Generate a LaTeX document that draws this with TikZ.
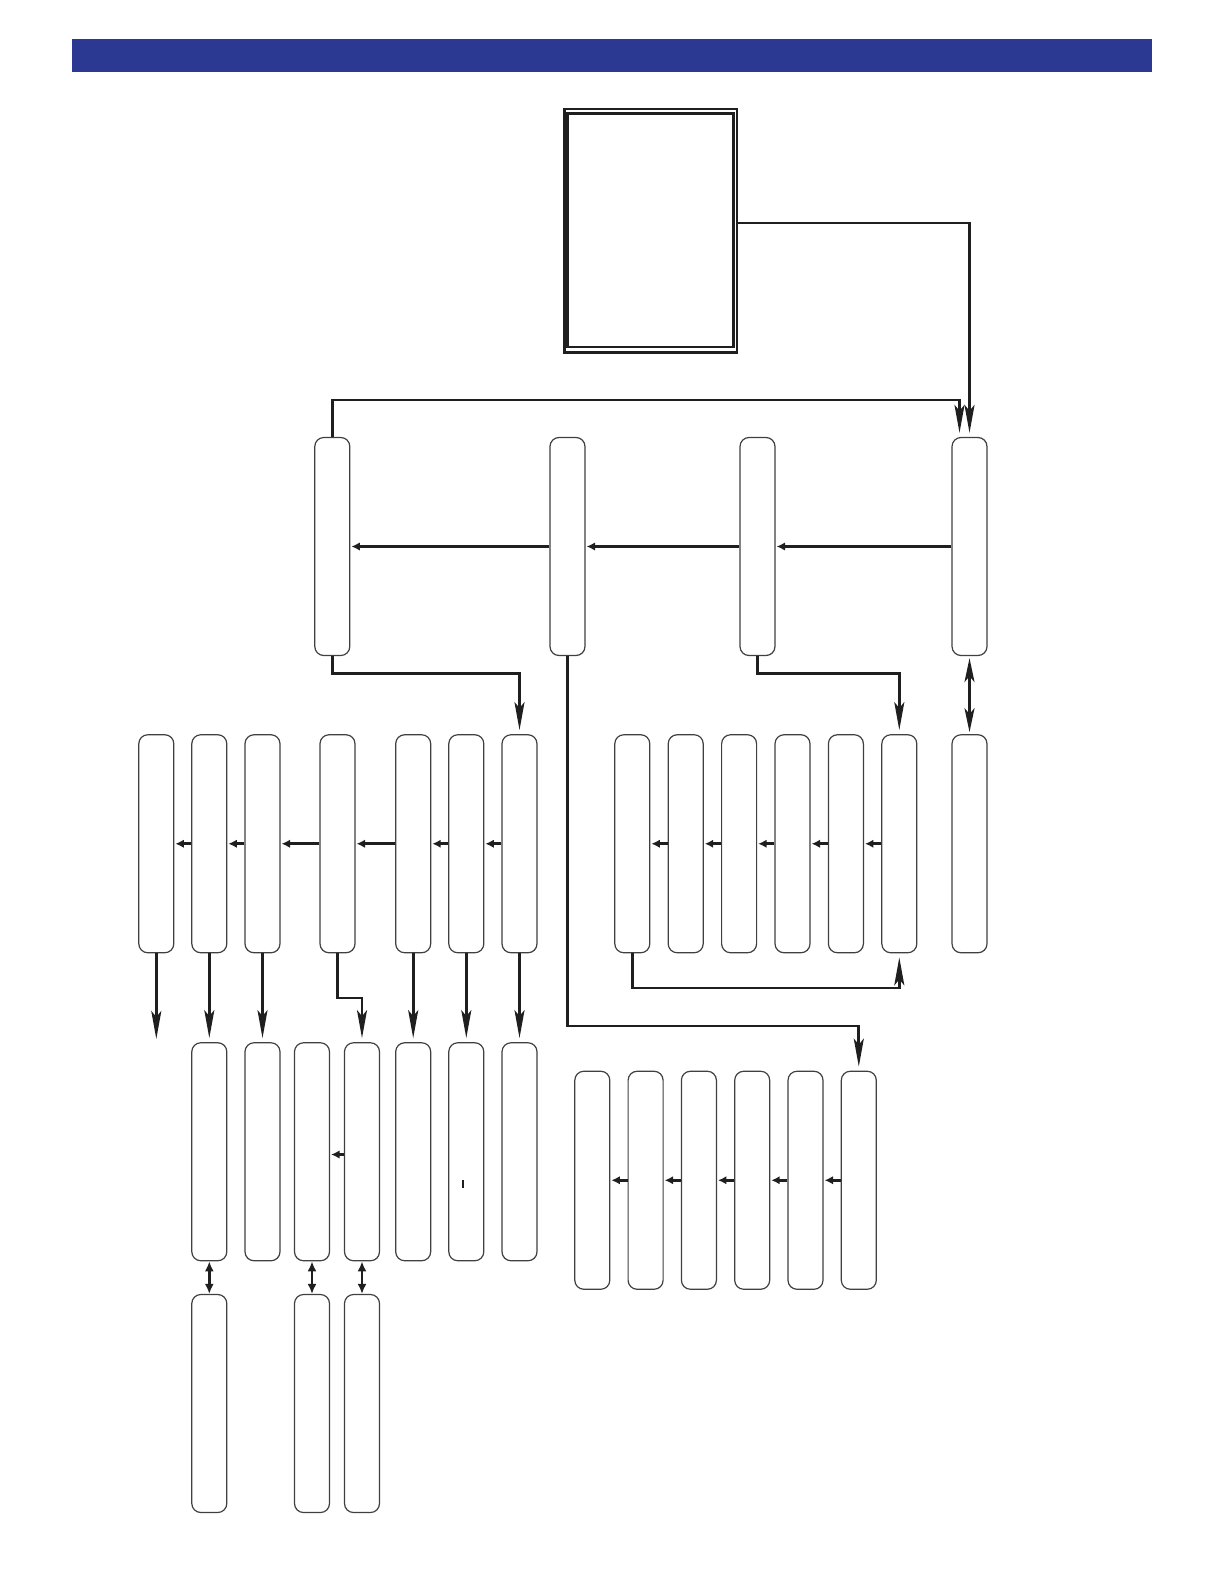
\documentclass[tikz,border=0pt]{standalone}
\usetikzlibrary{arrows.meta}
\definecolor{barblue}{RGB}{43,57,146}
\begin{document}
\begin{tikzpicture}[x=0.5pt,y=-0.5pt,
 box/.style={draw=black!75, line width=0.6pt, rounded corners=4.5pt, minimum width=17.5pt, minimum height=109pt, inner sep=0pt, fill=white},
 conn/.style={draw=black!88, line width=1.4pt},
 bigarrow/.style={conn, -{Stealth[length=14pt,width=5pt,inset=3pt]}, shorten >=2pt},
 bigdouble/.style={conn, {Stealth[length=12pt,width=5pt,inset=3pt]}-{Stealth[length=12pt,width=5pt,inset=3pt]}, shorten >=1pt, shorten <=1pt},
 smallarrow/.style={conn, line width=1.3pt, -{Latex[length=4.2pt,width=4.2pt]}, shorten >=0.5pt},
 smalldouble/.style={conn, line width=1.4pt, {Latex[length=5pt,width=4.5pt]}-{Latex[length=5pt,width=4.5pt]}},
 frame/.style={draw=black!88, line width=1.35pt}
]
\useasboundingbox (0,0) rectangle (1224,1584);
% header bar
\fill[barblue] (72,39) rectangle (1152,72);

% top double box
\node[frame, minimum width=86.15pt, minimum height=121.65pt, inner sep=0pt] (T) at (650.85,230.65) {};
\draw[frame] ([shift={(4,5.8)}]T.north west) rectangle ([shift={(-4.8,-6.8)}]T.south east);

% row 1
\foreach \n/\x in {A/332.3,B/567.5,C/757.5,D/969.5}
  \node[box] (\n) at (\x,546.5) {};
% row 2
\foreach \n/\x in {L1/156.3,L2/209.3,L3/262.5,L4/337.5,L5/413.2,L6/466.3,L7/519.5,
                   R1/632.3,R2/685.7,R3/739.1,R4/792.5,R5/845.9,R6/899.3,E/969.5}
  \node[box] (\n) at (\x,843.75) {};
% row 3 left
\foreach \n/\x in {M1/209.3,M2/262.5,M3/312,M4/362,M5/413.2,M6/466.3,M7/519.5}
  \node[box] (\n) at (\x,1151.75) {};
% row 3 right
\foreach \n/\x in {Q1/592.3,Q2/645.6,Q3/698.9,Q4/752.2,Q5/805.5,Q6/858.8}
  \node[box] (\n) at (\x,1180.25) {};
% row 4
\foreach \n/\x in {N1/209.3,N3/312,N4/362}
  \node[box] (\n) at (\x,1403.5) {};

% helper coordinates
\coordinate (c1) at (969.5,223);
\coordinate (c2) at (959.5,400);
\coordinate (c3) at (0,673.5);
\coordinate (c4) at (0,1026);
\coordinate (c5) at (0,988);
\coordinate (c6) at (0,998);
\coordinate (c7) at (0,1154.5);
\coordinate (L1end) at (156.3,1043);

% top connectors
\draw[bigarrow] (T.east |- c1) -| (D.north);
\draw[bigarrow] (A.north) |- (c2) -- (c2 |- D.north);

% row 1 arrows
\draw[smallarrow] (B.west) -- (A.east);
\draw[smallarrow] (C.west) -- (B.east);
\draw[smallarrow] (D.west) -- (C.east);

% row 1 to row 2
\draw[bigarrow] (A.south) |- (L7 |- c3) -- (L7.north);
\draw[bigarrow] (C.south) |- (R6 |- c3) -- (R6.north);
\draw[bigdouble] (D.south) -- (E.north);
\draw[bigarrow] (B.south) |- (Q6 |- c4) -- (Q6.north);

% row 2 arrows
\foreach \a/\b in {L7/L6,L6/L5,L5/L4,L4/L3,L3/L2,L2/L1,R6/R5,R5/R4,R4/R3,R3/R2,R2/R1}
  \draw[smallarrow] (\a.west) -- (\b.east);
\draw[bigarrow] (R1.south) |- (R6 |- c5) -- (R6.south);

% row 2 to row 3
\draw[bigarrow] (L1.south) -- (L1end);
\draw[bigarrow] (L2.south) -- (M1.north);
\draw[bigarrow] (L3.south) -- (M2.north);
\draw[bigarrow] (L4.south) |- (M4 |- c6) -- (M4.north);
\draw[bigarrow] (L5.south) -- (M5.north);
\draw[bigarrow] (L6.south) -- (M6.north);
\draw[bigarrow] (L7.south) -- (M7.north);

% row 3 arrows
\draw[smallarrow] (M4.west |- c7) -- (M3.east |- c7);
\foreach \a/\b in {Q6/Q5,Q5/Q4,Q4/Q3,Q3/Q2,Q2/Q1}
  \draw[smallarrow] (\a.west) -- (\b.east);

% small mark
\draw[black!88, line width=1.15pt] (463,1180) -- (463,1188);

% row 3 to row 4
\draw[smalldouble] (M1.south) -- (N1.north);
\draw[smalldouble] (M3.south) -- (N3.north);
\draw[smalldouble] (M4.south) -- (N4.north);
\end{tikzpicture}
\end{document}
